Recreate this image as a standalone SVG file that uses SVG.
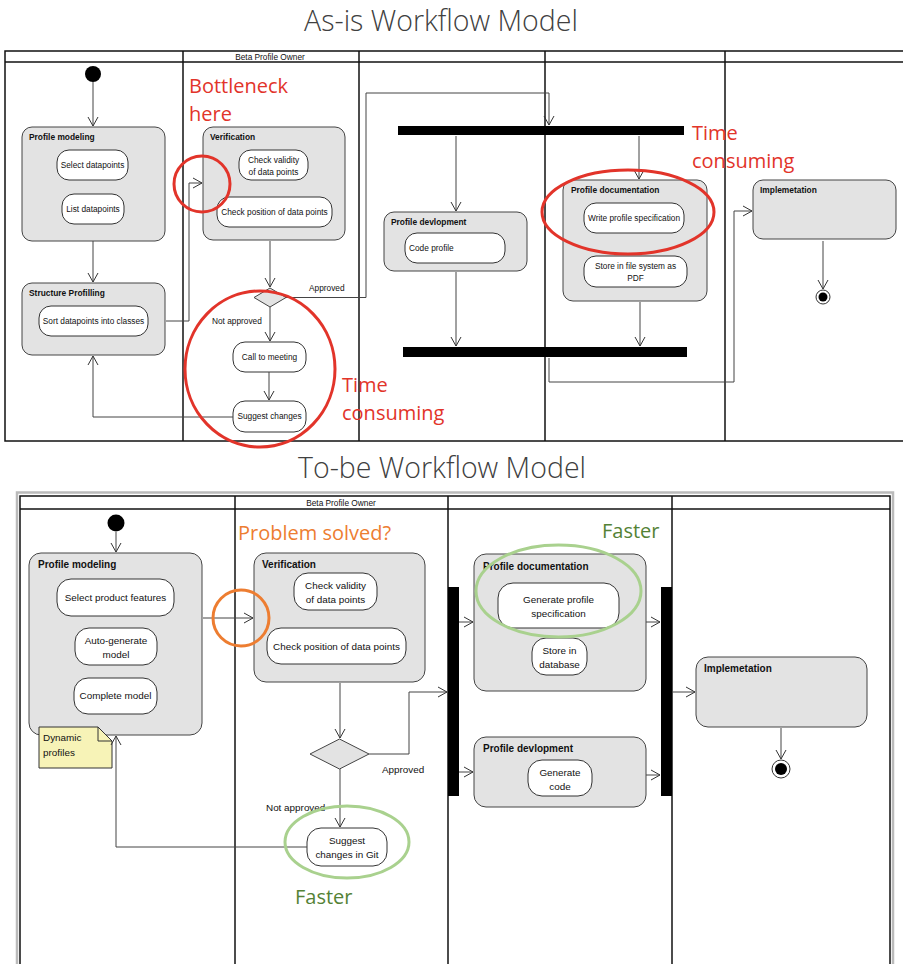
<svg xmlns="http://www.w3.org/2000/svg" width="903" height="964" viewBox="0 0 903 964">
<defs>
<marker id="arr" markerWidth="10" markerHeight="12" refX="9" refY="6" orient="auto" markerUnits="userSpaceOnUse"><path d="M0,1 L9,6 L0,11" fill="none" stroke="#333" stroke-width="1"/></marker>
<style>
.title{font-family:"Open Sans","Liberation Sans",sans-serif;font-size:28.5px;fill:#404040;font-weight:300;text-anchor:middle}
.frame{fill:none;stroke:#111;stroke-width:1.5}
.lane{stroke:#111;stroke-width:1.5}
.grp{fill:#e3e3e3;stroke:#444;stroke-width:1}
.act{fill:#fff;stroke:#333;stroke-width:1}
.t1{font-family:"Liberation Sans",Arial,sans-serif;font-size:8.3px;fill:#111}
.t1b{font-family:"Liberation Sans",Arial,sans-serif;font-size:8.4px;fill:#111;font-weight:bold}
.t2{font-family:"Liberation Sans",Arial,sans-serif;font-size:9.9px;fill:#111}
.t2b{font-family:"Liberation Sans",Arial,sans-serif;font-size:10px;fill:#111;font-weight:bold}
.c{text-anchor:middle}
.con{fill:none;stroke:#444;stroke-width:1}
.ann{font-family:"Open Sans","Liberation Sans",sans-serif;font-size:20px}
.red{fill:#e2342a}
.orange{fill:#ed7d31}
.green{fill:#548235}
.bar{fill:#000}
</style>
</defs>

<text class="title" x="441" y="31">As-is Workflow Model</text>
<text class="title" x="442" y="478">To-be Workflow Model</text>

<!-- TOP FRAME -->
<g id="top-frame">
<rect class="frame" x="5" y="51" width="905" height="390"/>
<line class="lane" x1="5" y1="62" x2="903" y2="62" stroke-width="2"/>
<line class="lane" x1="183" y1="51" x2="183" y2="441"/>
<line class="lane" x1="359" y1="51" x2="359" y2="441"/>
<line class="lane" x1="545" y1="51" x2="545" y2="441"/>
<line class="lane" x1="725" y1="51" x2="725" y2="441"/>
<text class="t1 c" x="270" y="60">Beta Profile Owner</text>
</g>

<!-- TOP NODES -->
<g id="t-start"><circle cx="93" cy="74" r="8" fill="#000"/></g>
<g id="t-profile-modeling">
<rect class="grp" x="22" y="127" width="143" height="114" rx="10"/>
<text class="t1b" x="29" y="140">Profile modeling</text>
<rect class="act" x="57" y="150" width="71" height="30" rx="12"/>
<text class="t1 c" x="92.5" y="168">Select datapoints</text>
<rect class="act" x="62" y="194" width="62" height="30" rx="12"/>
<text class="t1 c" x="93" y="212">List datapoints</text>
</g>
<g id="t-structure">
<rect class="grp" x="22" y="283" width="143" height="72" rx="10"/>
<text class="t1b" x="29" y="296">Structure Profilling</text>
<rect class="act" x="39" y="306" width="109" height="30" rx="12"/>
<text class="t1 c" x="93.5" y="324">Sort datapoints into classes</text>
</g>
<g id="t-verification">
<rect class="grp" x="203" y="127" width="142" height="113" rx="10"/>
<text class="t1b" x="210" y="140">Verification</text>
<rect class="act" x="239" y="150" width="69" height="30" rx="12"/>
<text class="t1 c" x="273.5" y="163">Check validity</text>
<text class="t1 c" x="273.5" y="175">of data points</text>
<rect class="act" x="217" y="197" width="115" height="30" rx="12"/>
<text class="t1 c" x="274.5" y="215">Check position of data points</text>
</g>
<g id="t-decision"><polygon points="270,288 286,297.5 270,307 254,297.5" fill="#e3e3e3" stroke="#444"/></g>
<g id="t-call">
<rect class="act" x="233" y="342" width="73" height="30" rx="12"/>
<text class="t1 c" x="269.5" y="360">Call to meeting</text>
</g>
<g id="t-suggest">
<rect class="act" x="233" y="401" width="73" height="31" rx="12"/>
<text class="t1 c" x="269.5" y="419">Suggest changes</text>
</g>
<g id="t-fork"><rect class="bar" x="398" y="126" width="286" height="9"/></g>
<g id="t-join"><rect class="bar" x="403" y="347" width="284" height="10"/></g>
<g id="t-profile-dev">
<rect class="grp" x="384" y="212" width="143" height="59" rx="10"/>
<text class="t1b" x="391" y="225">Profile devlopment</text>
<rect class="act" x="405" y="233" width="100" height="30" rx="12"/>
<text class="t1" x="409" y="251">Code profile</text>
</g>
<g id="t-profile-doc">
<rect class="grp" x="563" y="180" width="144" height="121" rx="10"/>
<text class="t1b" x="571" y="193">Profile documentation</text>
<rect class="act" x="584" y="203" width="100" height="30" rx="12"/>
<text class="t1 c" x="634" y="221">Write profile specification</text>
<rect class="act" x="584" y="256" width="103" height="31" rx="12"/>
<text class="t1 c" x="635.5" y="269">Store in file system as</text>
<text class="t1 c" x="635.5" y="281">PDF</text>
</g>
<g id="t-impl">
<rect class="grp" x="753" y="180" width="143" height="59" rx="10"/>
<text class="t1b" x="760" y="193">Implemetation</text>
</g>
<g id="t-end"><circle cx="823" cy="297" r="7" fill="#fff" stroke="#333"/><circle cx="823" cy="297" r="4.5" fill="#000"/></g>

<g id="t-connectors">
<line class="con" x1="93" y1="82" x2="93" y2="126" marker-end="url(#arr)"/>
<line class="con" x1="93" y1="241" x2="93" y2="282" marker-end="url(#arr)"/>
<polyline class="con" points="166,321 189,321 189,183 202,183" marker-end="url(#arr)"/>
<line class="con" x1="270" y1="241" x2="270" y2="287" marker-end="url(#arr)"/>
<polyline class="con" points="286,297.5 366,297.5 366,93 549,93 549,125" marker-end="url(#arr)"/>
<line class="con" x1="270" y1="307" x2="270" y2="341" marker-end="url(#arr)"/>
<line class="con" x1="269" y1="372" x2="269" y2="400" marker-end="url(#arr)"/>
<polyline class="con" points="233,417 93,417 93,356" marker-end="url(#arr)"/>
<line class="con" x1="456" y1="136" x2="456" y2="211" marker-end="url(#arr)"/>
<line class="con" x1="639" y1="136" x2="639" y2="179" marker-end="url(#arr)"/>
<line class="con" x1="456" y1="272" x2="456" y2="346" marker-end="url(#arr)"/>
<line class="con" x1="640" y1="302" x2="640" y2="346" marker-end="url(#arr)"/>
<polyline class="con" points="549,358 549,382 734,382 734,211 752,211" marker-end="url(#arr)"/>
<line class="con" x1="823" y1="241" x2="823" y2="289" marker-end="url(#arr)"/>
<text class="t1" x="309" y="291">Approved</text>
<text class="t1" x="212" y="324">Not approved</text>
</g>

<g id="top-annotations">
<circle cx="202" cy="184" r="28" fill="none" stroke="#e2342a" stroke-width="3"/>
<ellipse cx="260" cy="369" rx="75" ry="78" fill="none" stroke="#e2342a" stroke-width="3"/>
<ellipse cx="628" cy="212" rx="86" ry="42" fill="none" stroke="#e2342a" stroke-width="3"/>
<text class="ann red" x="189" y="93">Bottleneck</text>
<text class="ann red" x="189" y="121">here</text>
<text class="ann red" x="692" y="140">Time</text>
<text class="ann red" x="692" y="168">consuming</text>
<text class="ann red" x="342" y="392">Time</text>
<text class="ann red" x="342" y="420">consuming</text>
</g>

<!-- BOTTOM FRAME -->
<g id="bottom-frame">
<rect x="17" y="492.5" width="876" height="480" fill="none" stroke="#bbb" stroke-width="2.5"/>
<rect class="frame" x="20" y="496" width="870" height="480"/>
<line class="lane" x1="20" y1="509" x2="890" y2="509" stroke-width="2"/>
<line class="lane" x1="235" y1="496" x2="235" y2="964"/>
<line class="lane" x1="448" y1="496" x2="448" y2="964"/>
<line class="lane" x1="672" y1="496" x2="672" y2="964"/>
<text class="t1 c" x="341" y="506">Beta Profile Owner</text>
</g>

<g id="b-start"><circle cx="116" cy="523" r="8.5" fill="#000"/></g>
<g id="b-profile-modeling">
<rect class="grp" x="29" y="553" width="173" height="182" rx="12"/>
<text class="t2b" x="38" y="568">Profile modeling</text>
<rect class="act" x="57" y="579" width="117" height="37" rx="14"/>
<text class="t2 c" x="115.5" y="601">Select product features</text>
<rect class="act" x="75" y="628" width="82" height="37" rx="14"/>
<text class="t2 c" x="116" y="644">Auto-generate</text>
<text class="t2 c" x="116" y="658">model</text>
<rect class="act" x="74" y="678" width="83" height="36" rx="14"/>
<text class="t2 c" x="115.5" y="699">Complete model</text>
</g>
<g id="b-note">
<path d="M39,727 L98,727 L112,741 L112,768 L39,768 Z" fill="#f7f3b7" stroke="#333"/>
<path d="M98,727 L98,741 L112,741" fill="none" stroke="#333"/>
<text class="t2" x="43" y="741" font-size="10.5">Dynamic</text>
<text class="t2" x="43" y="756" font-size="10.5">profiles</text>
</g>
<g id="b-verification">
<rect class="grp" x="254" y="553" width="171" height="129" rx="12"/>
<text class="t2b" x="262" y="568">Verification</text>
<rect class="act" x="294" y="573" width="83" height="37" rx="14"/>
<text class="t2 c" x="335.5" y="589">Check validity</text>
<text class="t2 c" x="335.5" y="603">of data points</text>
<rect class="act" x="267" y="628" width="139" height="36" rx="14"/>
<text class="t2 c" x="336.5" y="650">Check position of data points</text>
</g>
<g id="b-decision"><polygon points="339.5,739 369,754 339.5,769 310,754" fill="#e3e3e3" stroke="#444"/></g>
<g id="b-suggest">
<rect class="act" x="307" y="828" width="80" height="38" rx="14"/>
<text class="t2 c" x="347" y="844">Suggest</text>
<text class="t2 c" x="347" y="858">changes in Git</text>
</g>
<g id="b-fork"><rect class="bar" x="448" y="587" width="11" height="209"/></g>
<g id="b-join"><rect class="bar" x="661" y="587" width="11" height="209"/></g>
<g id="b-profile-doc">
<rect class="grp" x="474" y="554" width="172" height="137" rx="12"/>
<text class="t2b" x="483" y="570">Profile documentation</text>
<rect class="act" x="498" y="583" width="121" height="45" rx="15"/>
<text class="t2 c" x="558.5" y="603">Generate profile</text>
<text class="t2 c" x="558.5" y="617">specification</text>
<rect class="act" x="532" y="638" width="55" height="37" rx="14"/>
<text class="t2 c" x="559.5" y="654">Store in</text>
<text class="t2 c" x="559.5" y="668">database</text>
</g>
<g id="b-profile-dev">
<rect class="grp" x="474" y="737" width="172" height="70" rx="12"/>
<text class="t2b" x="483" y="752">Profile devlopment</text>
<rect class="act" x="528" y="760" width="64" height="36" rx="14"/>
<text class="t2 c" x="560" y="776">Generate</text>
<text class="t2 c" x="560" y="790">code</text>
</g>
<g id="b-impl">
<rect class="grp" x="696" y="657" width="171" height="70" rx="12"/>
<text class="t2b" x="704" y="672">Implemetation</text>
</g>
<g id="b-end"><circle cx="781" cy="769" r="9" fill="#fff" stroke="#333"/><circle cx="781" cy="769" r="6" fill="#000"/></g>

<g id="b-connectors">
<line class="con" x1="116" y1="532" x2="116" y2="552" marker-end="url(#arr)"/>
<line class="con" x1="203" y1="618" x2="253" y2="618" marker-end="url(#arr)"/>
<line class="con" x1="340" y1="683" x2="340" y2="738" marker-end="url(#arr)"/>
<polyline class="con" points="369,754 409,754 409,692 447,692" marker-end="url(#arr)"/>
<line class="con" x1="340" y1="769" x2="340" y2="827" marker-end="url(#arr)"/>
<polyline class="con" points="307,847 116,847 116,736" marker-end="url(#arr)"/>
<line class="con" x1="459" y1="622" x2="473" y2="622" marker-end="url(#arr)"/>
<line class="con" x1="459" y1="772" x2="473" y2="772" marker-end="url(#arr)"/>
<line class="con" x1="646" y1="622" x2="660" y2="622" marker-end="url(#arr)"/>
<line class="con" x1="646" y1="775" x2="660" y2="775" marker-end="url(#arr)"/>
<line class="con" x1="672" y1="692" x2="695" y2="692" marker-end="url(#arr)"/>
<line class="con" x1="781" y1="728" x2="781" y2="759" marker-end="url(#arr)"/>
<text class="t2" x="382" y="773">Approved</text>
<text class="t2" x="266" y="811">Not approved</text>
</g>

<g id="bottom-annotations">
<circle cx="241" cy="618" r="28" fill="none" stroke="#ed7d31" stroke-width="3"/>
<ellipse cx="347" cy="842" rx="62" ry="36" fill="none" stroke="#a9d18e" stroke-width="3"/>
<ellipse cx="558.5" cy="591" rx="82.5" ry="46" fill="none" stroke="#a9d18e" stroke-width="3"/>
<text class="ann orange" x="238" y="540">Problem solved?</text>
<text class="ann green" x="602" y="538">Faster</text>
<text class="ann green" x="295" y="904">Faster</text>
</g>
</svg>
